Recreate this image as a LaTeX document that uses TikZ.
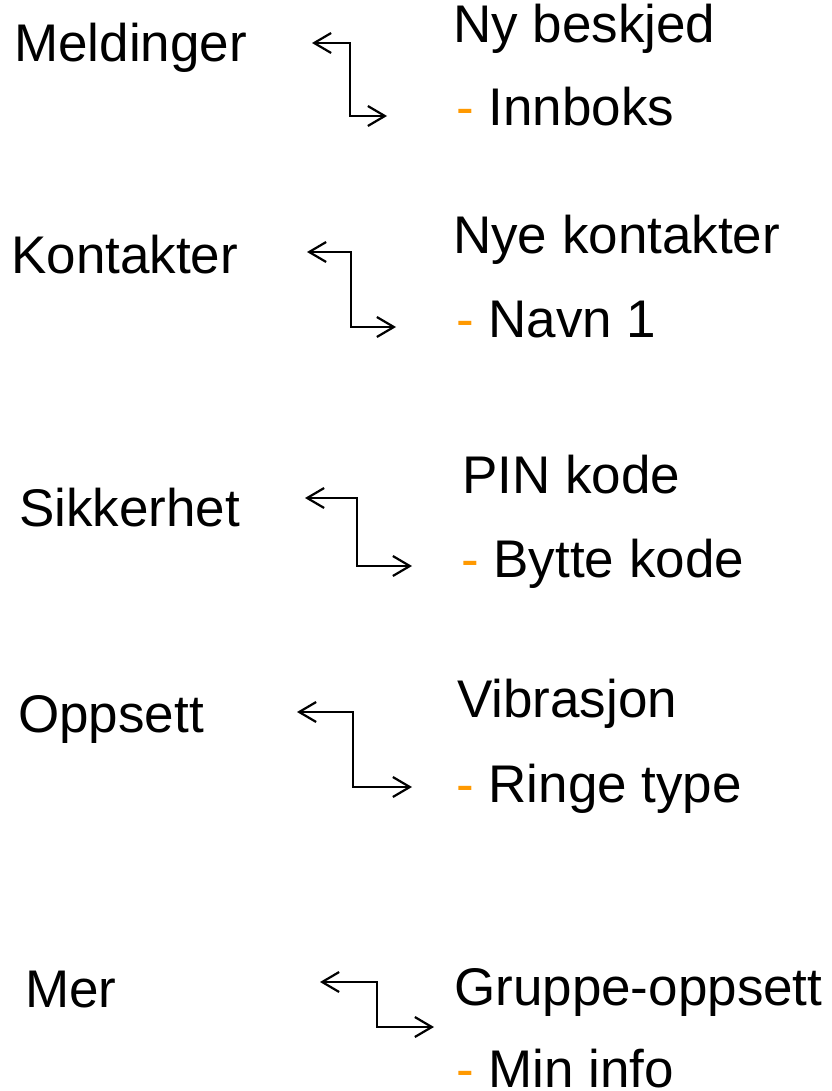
\documentclass[tikz,border=0pt]{standalone}
\usepackage{fontspec}
\setmainfont{Liberation Sans}
\usepackage{xcolor}
\definecolor{strek}{HTML}{FF9900}
\usepackage{tikz}
\usetikzlibrary{arrows.meta}
\tikzset{
    %Define standard arrow tip
    >={Straight Barb[length=17pt,width=20pt]},
    font=\fontsize{53}{60}\selectfont,
    %Define style for menu texts
    meny/.style={
           inner sep=0pt,
           anchor=base west},
    % Define arrow style
    pil/.style={
	   <->,
	   line width=2.2pt}
}

\begin{document}
\begin{tikzpicture}[x=1pt,y=-1pt]
  \useasboundingbox (0,0) rectangle (831,1091);
  % venstre kolonne
  \node[meny] (Meld) at (14,62)  {Meldinger};
  \node[meny] (Kont) at (11,273) {Kontakter};
  \node[meny] (Sikk) at (19,526) {Sikkerhet};
  \node[meny] (Opps) at (18,732) {Oppsett};
  \node[meny] (Mer)  at (25,1007) {Mer};
  % hoyre kolonne
  \node[meny] (NyBesk) at (453,43)  {Ny beskjed};
  \node[meny] (Innb)   at (456,126) {{\color{strek}-} Innboks};
  \node[meny] (NyKont) at (453,253) {Nye kontakter};
  \node[meny] (Navn)   at (456,337) {{\color{strek}-} Navn 1};
  \node[meny] (Pin)    at (462,493) {PIN kode};
  \node[meny] (Bytte)  at (461,577) {{\color{strek}-} Bytte kode};
  \node[meny] (Vibr)   at (457,717) {Vibrasjon};
  \node[meny] (Ringe)  at (456,802) {{\color{strek}-} Ringe type};
  \node[meny] (Grp)    at (454,1005) {Gruppe-oppsett};
  \node[meny] (MinInf) at (456,1087) {{\color{strek}-} Min info};
  % piler
  \coordinate (MeldA) at (312,43);  \coordinate (MeldB) at (387,116);
  \coordinate (KontA) at (307,252); \coordinate (KontB) at (396,327);
  \coordinate (SikkA) at (305,498); \coordinate (SikkB) at (412,566);
  \coordinate (OppsA) at (297,712); \coordinate (OppsB) at (412,787);
  \coordinate (MerA)  at (320,982); \coordinate (MerB)  at (434,1027);
  \draw[pil] (MeldA) -- ++(38,0) |- (MeldB);
  \draw[pil] (KontA) -- ++(44,0) |- (KontB);
  \draw[pil] (SikkA) -- ++(52,0) |- (SikkB);
  \draw[pil] (OppsA) -- ++(56,0) |- (OppsB);
  \draw[pil] (MerA)  -- ++(57,0) |- (MerB);
\end{tikzpicture}
\end{document}
